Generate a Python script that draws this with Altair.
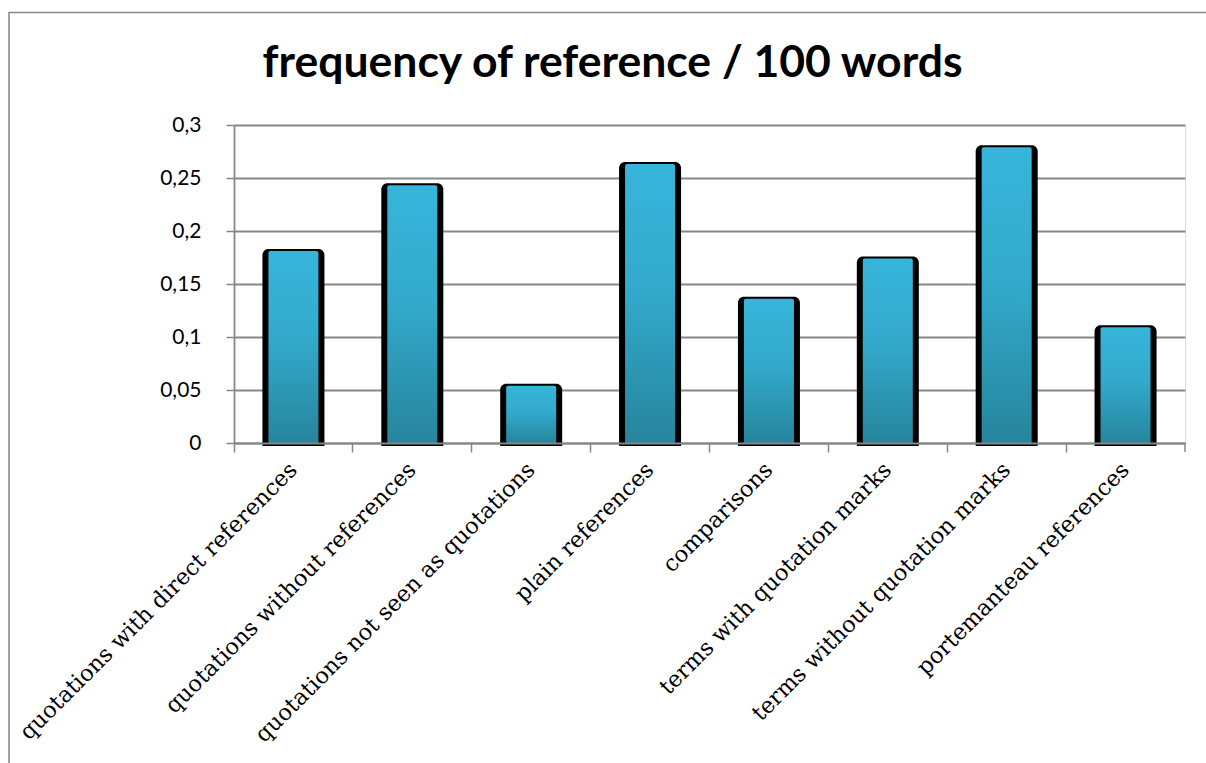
import altair as alt
import pandas as pd

categories = [
    "quotations with direct references",
    "quotations without references",
    "quotations not seen as quotations",
    "plain references",
    "comparisons",
    "terms with quotation marks",
    "terms without quotation marks",
    "portemanteau references",
]
values = [0.183, 0.245, 0.056, 0.265, 0.138, 0.176, 0.281, 0.111]
y_ticks = [0, 0.05, 0.1, 0.15, 0.2, 0.25, 0.3]
title_text = "frequency of reference / 100 words"

df = pd.DataFrame({"category": categories, "value": values})

W, H = 951, 318
GRID = "#878787"

x_enc = alt.X(
    "category:N",
    sort=categories,
    scale=alt.Scale(paddingInner=0, paddingOuter=0),
    axis=alt.Axis(
        title=None,
        labelAngle=315,
        labelAlign="right",
        labelBaseline="middle",
        labelFont="DejaVu Serif",
        labelFontSize=22.5,
        labelColor="#000000",
        labelPadding=14,
        labelLimit=600,
        bandPosition=0,
        tickSize=9,
        tickColor=GRID,
        tickWidth=1.5,
        domainColor=GRID,
        domainWidth=1.8,
        grid=False,
        zindex=1,
    ),
)
y_enc = alt.Y(
    "value:Q",
    scale=alt.Scale(domain=[0, 0.3], nice=False, zero=True),
    axis=alt.Axis(
        title=None,
        values=y_ticks,
        labelExpr="replace(toString(datum.value), '.', ',')",
        labelFont="Lato",
        labelFontSize=21,
        labelColor="#000000",
        labelPadding=25,
        tickSize=8,
        tickColor=GRID,
        tickWidth=1.5,
        domainColor=GRID,
        domainWidth=1.8,
        grid=True,
        gridColor=GRID,
        gridWidth=1.8,
    ),
)

shadow = alt.Chart(df).mark_bar(
    size=62, color="#000000", cornerRadiusTopLeft=6, cornerRadiusTopRight=6, y2Offset=3
).encode(x=x_enc, y=y_enc, y2=alt.datum(0))

grad = alt.Gradient(
    gradient="linear",
    stops=[
        alt.GradientStop(color="#37B5DA", offset=0),
        alt.GradientStop(color="#33AACC", offset=0.45),
        alt.GradientStop(color="#26859C", offset=1),
    ],
    x1=0, x2=0, y1=0, y2=1,
)
face = alt.Chart(df).mark_bar(
    size=50, color=grad, yOffset=2, cornerRadiusTopLeft=2, cornerRadiusTopRight=2
).encode(x=x_enc, y=alt.Y("value:Q"), y2=alt.datum(0))

frame = alt.Chart(alt.Data(values=[{"a": 1}])).mark_rect(
    fillOpacity=0, stroke=GRID, strokeWidth=1.5
).encode(
    x=alt.value(9 - 234), x2=alt.value(1230 - 234),
    y=alt.value(12.5 - 125), y2=alt.value(800 - 125),
)

end_tick = alt.Chart(alt.Data(values=[{"a": 1}])).mark_rule(
    color=GRID, strokeWidth=1.5
).encode(x=alt.value(W), y=alt.value(H), y2=alt.value(H + 9))

chart = alt.layer(frame, shadow, face, end_tick).properties(
    width=W,
    height=H,
    title=alt.TitleParams(
        text=title_text,
        font="Lato",
        fontSize=44.5,
        fontWeight="bold",
        color="#000000",
        anchor="middle",
        baseline="alphabetic",
        frame="group",
        dx=-97,
        dy=154.5,
        offset=45,
    ),
    autosize=alt.AutoSizeParams(type="none"),
    padding={"left": 234, "top": 125, "right": 21, "bottom": 320},
).configure_view(stroke=None).configure(background="#ffffff")

chart.save("out.html", embed_options={"renderer": "svg", "actions": False})
